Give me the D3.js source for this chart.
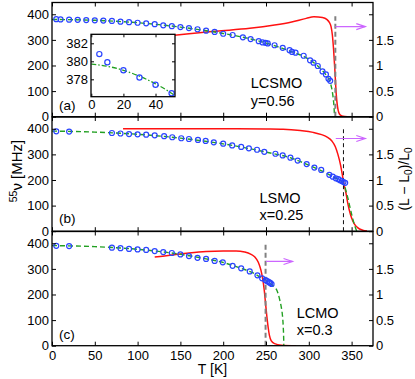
<!DOCTYPE html>
<html><head><meta charset="utf-8">
<script src="https://cdn.jsdelivr.net/npm/d3@7"></script>
<style>body{margin:0;background:#fff}svg{display:block;font-family:"Liberation Sans",Arial,sans-serif}</style>
</head><body><svg id="c" width="415" height="379"></svg>
<script>
// ---------- data ----------
const T_TICKS=[0,50,100,150,200,250,300,350];
const NU_TICKS=[0,100,200,300,400];
const L_TICKS=[0,0.5,1,1.5,2];
const L_LABELS=["0","0.5","1","1.5",""];
const INSET_T_TICKS=[0,20,40];
const INSET_NU_TICKS=[378,380,382];

// panel (a) LCSMO y=0.56
const a_T=[5,10,20,30,40,50,60,70,80,90,100,110,120,130,140,150,160,170,180,190,200,211,223,232,241.5,246,249.5,252,260,269.5,277.5,280.5,284.5,294,301.5,305.5,310.5,316,320,323,325];
const a_nu=[380.8,379.9,379.0,378.2,377.4,376.5,375.5,374,371,369,367,364.5,361.5,357,353.5,350,346,341.5,336,331,324,319,310,303,295,290,288.5,286,279,269,260,253,250,238,220,211,198,177,165,148,140];
const a_fitT=[0,25,50,75,100,125,150,175,200,225,250,270,285,295,305,312,318,322,324,326,328,329.4,330.1];
const a_fitNu=[379.7,378.6,376.5,372.5,367,359.5,350,338.5,325,309,288,266,248,234,213,193,172,155,142,122,86,40,0];
const a_LT=[143,160,192,231,260,280,297,306,316,321,324,326,327.5,329,330.5,332,333.5,335,337,340,345];
const a_L=[1.59,1.62,1.67,1.725,1.79,1.85,1.92,1.95,1.935,1.9,1.84,1.76,1.6,1.3,0.9,0.45,0.2,0.08,0.03,0.01,0];
const a_vline=[331,392];
const a_arrow=[331,366,1.76];

// inset of (a)
const in_T=[5,10,20,30,40,50];
const in_nu=[380.8,379.9,379.0,378.2,377.4,376.45];
const in_fitT=[0,10,20,30,40,50,52];
const in_fitNu=[379.7,379.45,379.0,378.35,377.5,376.45,376.2];

// panel (b) LSMO x=0.25
const b_T=[5,20,70,80,90,100,110,120,131,140.5,151,160,170.5,179.5,189,200,210.5,221,230,239.5,248,261,269.5,278.5,287,297.5,306.5,314.5,324,328,331.5,334.5,336.5,338.5,340.5,342.5];
const b_nu=[390,389,383.5,381.5,379.5,378.5,377,374.5,371,367,363,360,356.5,352.5,347,342,335,329,323.5,318,310,302.5,296,287,276,262,248.5,239.5,220,213,206.5,203,199,196,192,189];
const b_fitT=[0,50,100,150,200,250,280,300,315,325,332,337,340,342,344,346,348,350,352,354,356];
const b_fitNu=[391,387,378.5,363.5,341,309,285,258,236,219,206,197,188,175,150,125,95,67,40,18,0];
const b_LT=[83,150,200,250,270,290,305,315,321,327,331,334,337,339,341,343.5,345.5,347.5,350,353,357,363,368];
const b_L=[2.0,2.0,2.0,1.995,1.99,1.965,1.93,1.885,1.84,1.76,1.65,1.5,1.3,1.12,0.93,0.74,0.55,0.4,0.26,0.15,0.07,0.02,0.005];
const b_vline=[340.5,398];
const b_arrow=[331.5,366,1.81];

// panel (c) LCMO x=0.3
const c_T=[5,20,70,80,90,100,110,120,130,140,150,160,170,180,190,199.5,211,221,231,240,245.5,249.5,251.5,253.5,255,256.5];
const c_nu=[390,389,383,381,378,376,374,369.5,365.5,362,356.5,350,343,339,331,325.5,312,302,290,275,263,256,252,248,245,241];
const c_fitT=[0,50,100,150,180,200,220,235,245,252,257,260,262,264,266,268,269.3,270.2,270.7,270.8];
const c_fitNu=[391,387,376.5,357,339,325,303,284,265,250,238,230,221,205,180,148,115,70,20,0];
const c_LT=[120,140,160,180,200,215,225,232,237,241,244,246,248,249.5,251,252.5,254,256,260,268,285];
const c_L=[1.73,1.77,1.81,1.84,1.85,1.85,1.83,1.79,1.73,1.63,1.48,1.32,1.08,0.82,0.57,0.36,0.2,0.1,0.04,0.01,0];
const c_vline=[249.5,396];
const c_arrow=[250,281,1.645];

// ---------- drawing ----------
const FONT='"Liberation Sans",Arial,sans-serif';
const C_BLUE="#2a44ff", C_GREEN="#22a022", C_RED="#ff1111", C_VIO="#cc66ff";
const svg=d3.select("#c");
const x=d3.scaleLinear().domain([0,375]).range([52,373]);
const H=114.2;
const panels=[
 {top:2.5,T:a_T,nu:a_nu,fT:a_fitT,fN:a_fitNu,LT:a_LT,L:a_L,vl:a_vline,ar:a_arrow,vstyle:"grey",tag:"(a)",tagY:107,
  name:["LCSMO","y=0.56"],nx:250.7,ny:[85.8,103]},
 {top:117,T:b_T,nu:b_nu,fT:b_fitT,fN:b_fitNu,LT:b_LT,L:b_L,vl:b_vline,ar:b_arrow,vstyle:"black",tag:"(b)",tagY:106,
  name:["LSMO","x=0.25"],nx:259.5,ny:[86.3,103]},
 {top:231.5,T:c_T,nu:c_nu,fT:c_fitT,fN:c_fitNu,LT:c_LT,L:c_L,vl:c_vline,ar:c_arrow,vstyle:"grey",tag:"(c)",tagY:107,
  name:["LCMO","x=0.3"],nx:296.7,ny:[86.8,103.5]}
];

panels.forEach((p,k)=>{
  const g=svg.append("g").attr("transform",`translate(0,${p.top})`);
  const y=d3.scaleLinear().domain([0,446]).range([H,0]);
  const yr=d3.scaleLinear().domain([0,2.23]).range([H,0]);
  g.append("clipPath").attr("id","clip"+k).append("rect").attr("x",52).attr("y",0).attr("width",321).attr("height",H);
  const inner=g.append("g").attr("clip-path",`url(#clip${k})`);

  // red (L-L0)/L0
  inner.append("path").datum(d3.zip(p.LT,p.L))
    .attr("d",d3.line().x(d=>x(d[0])).y(d=>yr(d[1])).curve(d3.curveMonotoneX))
    .attr("fill","none").attr("stroke",C_RED).attr("stroke-width",1.5);
  // green fit
  inner.append("path").datum(d3.zip(p.fT,p.fN))
    .attr("d",d3.line().x(d=>x(d[0])).y(d=>y(d[1])).curve(d3.curveMonotoneX))
    .attr("fill","none").attr("stroke",C_GREEN).attr("stroke-width",1.4).attr("stroke-dasharray","5,3");
  // vertical dashed
  inner.append("line").attr("x1",x(p.vl[0])).attr("x2",x(p.vl[0])).attr("y1",y(0)).attr("y2",y(p.vl[1]))
    .attr("stroke",p.vstyle==="grey"?"#808080":"#111").attr("stroke-width",p.vstyle==="grey"?2:1)
    .attr("stroke-dasharray",p.vstyle==="grey"?"5,3":"4,3");
  // arrow
  const ay=yr(p.ar[2]), ax1=x(p.ar[0]), ax2=x(p.ar[1]);
  inner.append("line").attr("x1",ax1).attr("x2",ax2).attr("y1",ay).attr("y2",ay).attr("stroke",C_VIO).attr("stroke-width",1.2);
  inner.append("path").attr("d",`M${ax2-9},${ay-3}L${ax2},${ay}L${ax2-9},${ay+3}`).attr("fill","none").attr("stroke",C_VIO).attr("stroke-width",1.2);
  // points
  inner.selectAll("circle").data(d3.zip(p.T,p.nu)).join("circle")
    .attr("cx",d=>x(d[0])).attr("cy",d=>y(d[1])).attr("r",2.5)
    .attr("fill","none").attr("stroke",C_BLUE).attr("stroke-width",1.2);

  // axes
  const style=s=>{s.select(".domain").remove();s.attr("font-size",13).attr("font-family",FONT);s.selectAll("text").attr("fill","#000");};
  g.append("g").attr("transform",`translate(0,${H})`)
    .call(d3.axisBottom(x).tickValues(T_TICKS).tickSize(-4).tickSizeOuter(0).tickPadding(5).tickFormat(k===2?d3.format("d"):()=>"")).call(style);
  g.append("g").call(d3.axisTop(x).tickValues(T_TICKS).tickSize(-4).tickSizeOuter(0).tickFormat(()=>"")).call(style);
  g.append("g").attr("transform","translate(52,0)")
    .call(d3.axisLeft(y).tickValues(NU_TICKS).tickSize(-4).tickSizeOuter(0).tickPadding(3)).call(style);
  g.append("g").attr("transform","translate(373,0)")
    .call(d3.axisRight(yr).tickValues(L_TICKS).tickSize(-4).tickSizeOuter(0).tickPadding(3).tickFormat((d,i)=>L_LABELS[i])).call(style);
  g.append("rect").attr("x",52).attr("y",0).attr("width",321).attr("height",H).attr("fill","none").attr("stroke","#000").attr("stroke-width",1.3);

  // labels
  g.append("text").attr("x",59).attr("y",p.tagY).attr("font-size",13.5).attr("font-family",FONT).text(p.tag);
  g.append("text").attr("x",p.nx).attr("y",p.ny[0]).attr("font-size",14.5).attr("font-family",FONT).text(p.name[0]);
  g.append("text").attr("x",p.nx).attr("y",p.ny[1]).attr("font-size",14.5).attr("font-family",FONT).text(p.name[1]);
});

// inset
(function(){
  const ix=d3.scaleLinear().domain([0,52]).range([91.3,174.8]);
  const iy=d3.scaleLinear().domain([376.07,383.0]).range([96.7,34.3]);
  const g=svg.append("g");
  g.append("rect").attr("x",91).attr("y",34.3).attr("width",84).attr("height",62.4).attr("fill","#fff");
  g.append("path").datum(d3.zip(in_fitT,in_fitNu))
    .attr("d",d3.line().x(d=>ix(d[0])).y(d=>iy(d[1])).curve(d3.curveMonotoneX))
    .attr("fill","none").attr("stroke",C_GREEN).attr("stroke-width",1.3).attr("stroke-dasharray","5,2,1.5,2");
  g.selectAll("circle").data(d3.zip(in_T,in_nu)).join("circle")
    .attr("cx",d=>ix(d[0])).attr("cy",d=>iy(d[1])).attr("r",2.6)
    .attr("fill","none").attr("stroke",C_BLUE).attr("stroke-width",1.2);
  const style=s=>{s.select(".domain").remove();s.attr("font-size",13).attr("font-family",FONT);s.selectAll("text").attr("fill","#000");};
  g.append("g").attr("transform","translate(0,96.7)").call(d3.axisBottom(ix).tickValues(INSET_T_TICKS).tickSize(-3).tickSizeOuter(0).tickPadding(3).tickFormat(d3.format("d"))).call(style);
  g.append("g").attr("transform","translate(0,34.3)").call(d3.axisTop(ix).tickValues(INSET_T_TICKS).tickSize(-3).tickSizeOuter(0).tickFormat(()=>"")).call(style);
  g.append("g").attr("transform","translate(91,0)").call(d3.axisLeft(iy).tickValues(INSET_NU_TICKS).tickSize(-3).tickSizeOuter(0).tickPadding(3).tickFormat(d3.format("d"))).call(style);
  g.append("g").attr("transform","translate(175,0)").call(d3.axisRight(iy).tickValues(INSET_NU_TICKS).tickSize(-3).tickSizeOuter(0).tickFormat(()=>"")).call(style);
  g.append("rect").attr("x",91).attr("y",34.3).attr("width",84).attr("height",62.4).attr("fill","none").attr("stroke","#000").attr("stroke-width",1.3);
})();

// axis titles
svg.append("text").attr("x",212.5).attr("y",374).attr("text-anchor","middle").attr("font-size",14).attr("font-family",FONT).text("T [K]");
const yl=svg.append("text").attr("transform","translate(21.5,171) rotate(-90)").attr("text-anchor","middle").attr("font-size",15).attr("font-family",FONT);
yl.append("tspan").attr("font-size",10.5).attr("dy",-5).text("55");
yl.append("tspan").attr("dy",5).text("ν [MHz]");
const rl=svg.append("text").attr("transform","translate(408.5,179) rotate(-90)").attr("text-anchor","middle").attr("font-size",14).attr("font-family",FONT);
rl.append("tspan").text("(L − L");
rl.append("tspan").attr("font-size",10).attr("dy",3).text("0");
rl.append("tspan").attr("dy",-3).text(")/L");
rl.append("tspan").attr("font-size",10).attr("dy",3).text("0");
</script></body></html>
